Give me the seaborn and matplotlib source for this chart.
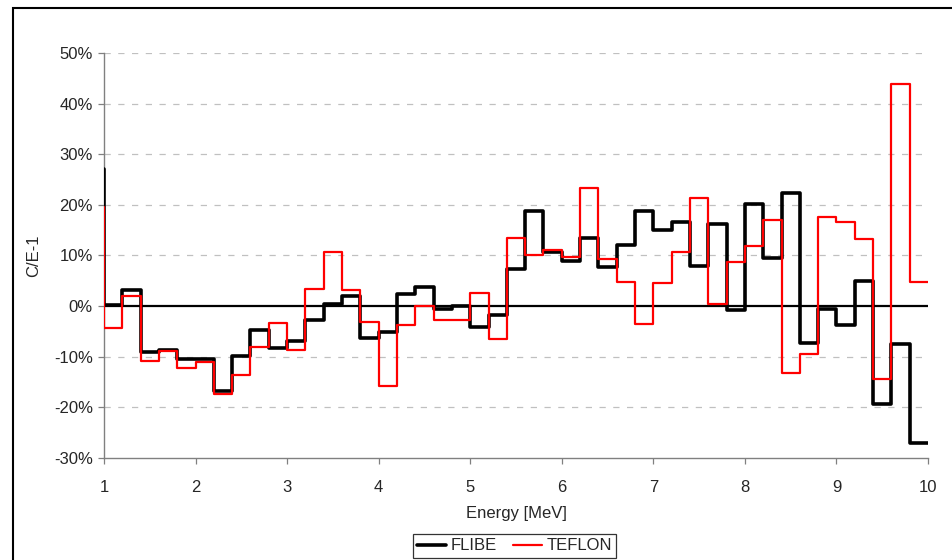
import numpy as np
import pandas as pd
import matplotlib.pyplot as plt
import seaborn as sns
from matplotlib.ticker import PercentFormatter
from matplotlib.patches import Rectangle

# Bin edges (MeV), 0.2 MeV wide bins from 1 to 10
edges = np.round(np.arange(1.0, 10.01, 0.2), 1)

# C/E-1 in percent, one value per bin; first value is the spike at x=1
flibe_start = 27.0
flibe = [0.3, 3.2, -9.0, -8.6, -10.5, -10.5, -16.8, -9.9, -4.7, -8.2,
         -6.8, -2.8, 0.5, 2.0, -6.3, -5.1, 2.3, 3.75, -0.5, 0.0,
         -4.2, -1.8, 7.4, 18.75, 10.7, 9.0, 13.4, 7.7, 12.0, 18.75,
         15.1, 16.6, 8.0, 16.2, -0.85, 20.1, 9.6, 22.4, -7.2, -0.6,
         -3.7, 5.0, -19.4, -7.5, -27.1]
teflon_start = 19.6
teflon = [-4.4, 2.0, -10.9, -8.8, -12.2, -11.1, -17.4, -13.7, -8.0, -3.3,
          -8.6, 3.3, 10.7, 3.2, -3.2, -15.7, -3.8, 0.0, -2.7, -2.7,
          2.5, -6.4, 13.5, 10.1, 11.1, 9.7, 23.4, 9.3, 4.7, -3.6,
          4.5, 10.7, 21.4, 0.5, 8.8, 11.9, 17.0, -13.2, -9.4, 17.6,
          16.6, 13.3, -14.3, 43.9, 4.7]


def step_frame(start, vals, name):
    x = np.concatenate([[edges[0]], edges])
    y = np.concatenate([[start], vals, [vals[-1]]])
    return pd.DataFrame({'Energy': x, 'CE': y, 'series': name})


df_flibe = step_frame(flibe_start, flibe, 'FLIBE')
df_teflon = step_frame(teflon_start, teflon, 'TEFLON')

sns.set_style('white')
plt.rcParams['font.family'] = ['Liberation Sans', 'DejaVu Sans']
plt.rcParams['axes.unicode_minus'] = False

fig = plt.figure(figsize=(9.53, 5.6), dpi=100)
ax = fig.add_axes([0.1091, 0.1821, 0.8647, 0.7233])

# grid and zero line
for yv in range(-20, 51, 10):
    if yv != 0:
        ax.axhline(yv, color='#c0c0c0', lw=0.9, ls=(0, (5, 6)), zorder=0)
ax.axhline(0, color='black', lw=1.6, zorder=1)

sns.lineplot(data=df_flibe, x='Energy', y='CE', ax=ax, color='black', lw=2.6,
             drawstyle='steps-post', sort=False, estimator=None, label='FLIBE', zorder=3)
sns.lineplot(data=df_teflon, x='Energy', y='CE', ax=ax, color='#ff0000', lw=1.6,
             drawstyle='steps-post', sort=False, estimator=None, label='TEFLON', zorder=4)

ax.set_xlim(1, 10)
ax.set_ylim(-30, 50)
ax.set_xticks(range(1, 11))
ax.set_yticks(range(-30, 51, 10))
ax.yaxis.set_major_formatter(PercentFormatter(xmax=100, decimals=0))
ax.tick_params(axis='both', direction='out', length=4, width=0.9, color='#808080',
               labelsize=12, left=True, bottom=True)
ax.tick_params(axis='x', pad=12)
ax.tick_params(axis='y', pad=4)
for side in ['top', 'right']:
    ax.spines[side].set_visible(False)
for side in ['left', 'bottom']:
    ax.spines[side].set_color('#808080')
    ax.spines[side].set_linewidth(1.0)

ax.set_xlabel('Energy [MeV]', fontsize=12, labelpad=8)
ax.set_ylabel('C/E-1', fontsize=12, labelpad=9)

leg = ax.legend(loc='center', bbox_to_anchor=(0.540, 0.025), bbox_transform=fig.transFigure,
                ncol=2, fontsize=12, frameon=True, fancybox=False, handlelength=1.75,
                handletextpad=0.25, columnspacing=1.0, borderpad=0.25, borderaxespad=0)
leg.get_frame().set_edgecolor('black')
leg.get_frame().set_linewidth(0.9)

# chart border (left and top visible)
fig.add_artist(Rectangle((13 / 953, -0.1), 1.2, 1.1 - 8 / 560, transform=fig.transFigure,
                         fill=False, edgecolor='black', lw=1.5, clip_on=False))

fig.savefig('out.png', dpi=100)
